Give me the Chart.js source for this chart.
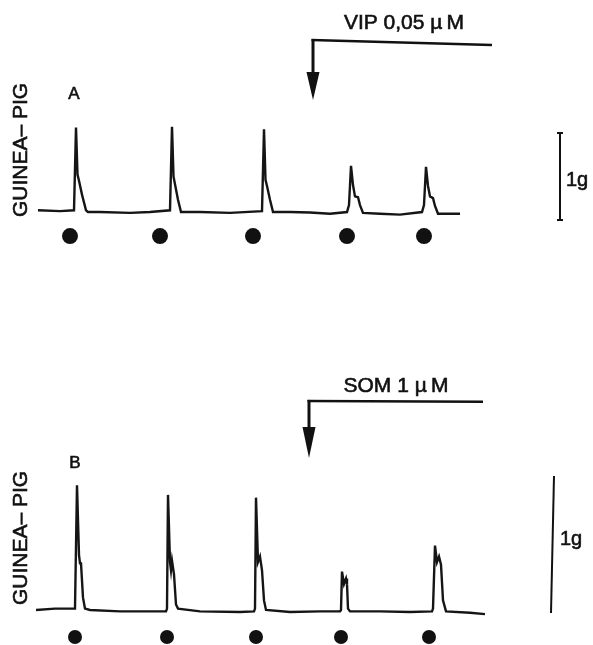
<!DOCTYPE html>
<html lang="en">
<head>
  <meta charset="UTF-8">
  <title>Guinea-pig traces: VIP and SOM</title>
  <script src="https://cdn.jsdelivr.net/npm/chart.js"></script>
  <style>
    body { margin: 0; background: #fff; font-family: "Liberation Sans", Arial, sans-serif; }
    .panel { position: absolute; left: 0; width: 593px; }
    #panelA { top: 0; height: 322px; }
    #panelB { top: 322px; height: 323px; }
  </style>
</head>
<body>
  <div class="panel" id="panelA"><canvas id="chartA" width="593" height="322"></canvas></div>
  <div class="panel" id="panelB"><canvas id="chartB" width="593" height="323"></canvas></div>
  <script>
    // tension traces: [time, force in g]
    const traceA = [
      [38, 0.02], [60, 0.01], [74, 0.02], [76, 0.97], [77.5, 0.43], [79, 0.36], [82, 0.20], [86, 0.02], [88, 0],
      [100, 0], [130, -0.01], [150, 0], [170, 0.02], [172, 0.98], [173.5, 0.41], [175, 0.32], [178, 0.14], [181, 0],
      [200, 0], [230, -0.01], [262, 0.01], [264, 0.95], [265.5, 0.37], [267, 0.30], [270, 0.14], [273, 0],
      [290, 0], [310, -0.005], [330, -0.02], [347, 0], [349, 0.08], [351, 0.53], [353, 0.31], [355, 0.18], [358, 0.17], [360, 0.08], [363, -0.01],
      [380, -0.02], [400, -0.03], [422, 0], [424, 0.08], [426, 0.52], [428, 0.30], [430, 0.18], [433, 0.16], [435, 0.07], [438, -0.02],
      [450, -0.02], [460, -0.02]
    ];
    const traceB = [
      [36, 0], [55, 0.01], [75, 0.01], [77, 0.91], [79, 0.40], [80, 0.34], [81, 0.34], [83, 0.09], [85, 0.01], [90, 0],
      [120, -0.01], [150, -0.01], [166, -0.01], [167, 0.01], [168, 0.84], [170, 0.35], [171, 0.29], [172, 0.36], [174, 0.26], [176, 0.04], [178, 0.01],
      [200, -0.01], [240, -0.015], [254, -0.01], [255, 0.01], [256, 0.82], [258, 0.35], [260, 0.39], [262, 0.29], [264, 0.07], [266, 0],
      [290, -0.015], [320, -0.01], [340, -0.01], [341, 0], [342, 0.28], [344, 0.19], [346, 0.23], [347, 0.19], [348, 0.01], [350, -0.01],
      [380, -0.01], [410, -0.015], [432, -0.01], [433, 0.01], [435, 0.47], [437, 0.35], [439, 0.39], [441, 0.33], [443, 0.07], [446, -0.01],
      [470, -0.02], [485, -0.03]
    ];
    // field stimulation marks
    const beatsA = [70, 160, 253, 347, 424];
    const beatsB = [75, 167, 256, 341, 429];
    const drugA = 'VIP 0,05 \u00b5\u2009M';
    const drugB = 'SOM 1 \u00b5\u2009M';
    const species = 'GUINEA\u2013 PIG';
    const scaleLabel = '1g';

    const FONT = '"Liberation Sans", Arial, sans-serif';

    // printed text looks a little heavier than regular, so add a hairline stroke
    function heavyText(ctx, text, x, y) {
      ctx.fillText(text, x, y);
      ctx.lineWidth = 0.6;
      ctx.strokeText(text, x, y);
    }

    function makeDecor(d) {
      return {
        id: 'decor',
        afterDatasetsDraw(chart) {
          const ctx = chart.ctx;
          const px = v => chart.scales.x.getPixelForValue(v);
          const py = v => chart.scales.y.getPixelForValue(v);
          ctx.save();
          ctx.strokeStyle = '#111';
          ctx.fillStyle = '#111';
          ctx.lineCap = 'butt';

          // drug application arrow
          const ax = px(d.arrow.t), ay = py(d.arrow.top);
          ctx.lineWidth = 2.5;
          ctx.beginPath();
          ctx.moveTo(ax - 1.5, ay);
          ctx.lineTo(px(d.arrow.end), py(d.arrow.endY));
          ctx.stroke();
          const tip = py(d.arrow.tip);
          ctx.lineWidth = 3;
          ctx.beginPath();
          ctx.moveTo(ax, ay - 1);
          ctx.lineTo(ax, tip - d.arrow.head + 2);
          ctx.stroke();
          ctx.beginPath();
          ctx.moveTo(ax - 6.5, tip - d.arrow.head);
          ctx.lineTo(ax + 6.5, tip - d.arrow.head);
          ctx.lineTo(ax, tip);
          ctx.closePath();
          ctx.fill();

          ctx.textBaseline = 'middle';
          ctx.textAlign = 'center';
          ctx.font = '21px ' + FONT;
          heavyText(ctx, d.drug, px(d.drugLabel[0]), py(d.drugLabel[1]));

          // panel letter
          ctx.font = '17px ' + FONT;
          heavyText(ctx, d.letter, px(d.letterPos[0]), py(d.letterPos[1]));

          // species label
          ctx.save();
          ctx.translate(px(d.speciesPos[0]), py(d.speciesPos[1]));
          ctx.rotate(-Math.PI / 2);
          ctx.font = '21px ' + FONT;
          heavyText(ctx, species, 0, 0);
          ctx.restore();

          // 1 g calibration bar
          const bx0 = px(d.bar.x0), bx1 = px(d.bar.x1);
          const by0 = py(d.bar.base), by1 = py(d.bar.base + 1);
          ctx.lineWidth = 2;
          ctx.beginPath();
          ctx.moveTo(bx0, by0);
          ctx.lineTo(bx1, by1);
          ctx.stroke();
          if (d.bar.caps) {
            ctx.beginPath();
            ctx.moveTo(bx0 - 3, by0); ctx.lineTo(bx0 + 3, by0);
            ctx.moveTo(bx1 - 3, by1); ctx.lineTo(bx1 + 3, by1);
            ctx.stroke();
          }
          ctx.textAlign = 'left';
          ctx.font = '20px ' + FONT;
          heavyText(ctx, scaleLabel, px(d.barLabel[0]), py(d.barLabel[1]));
          ctx.restore();
        }
      };
    }

    function makeChart(id, trace, beats, beatLevel, yMin, yMax, dotR, decor) {
      return new Chart(document.getElementById(id), {
        type: 'line',
        data: {
          datasets: [{
            data: trace.map(p => ({ x: p[0], y: p[1] })),
            borderColor: '#151515',
            borderWidth: 2.4,
            pointRadius: 0,
            tension: 0,
            clip: false
          }, {
            type: 'scatter',
            data: beats.map(t => ({ x: t, y: beatLevel })),
            pointRadius: dotR,
            pointBackgroundColor: '#111',
            pointBorderWidth: 0,
            showLine: false,
            clip: false
          }]
        },
        options: {
          responsive: false,
          animation: false,
          layout: { padding: 0, autoPadding: false },
          scales: {
            x: { type: 'linear', min: 0, max: 593, display: false },
            y: { type: 'linear', min: yMin, max: yMax, display: false }
          },
          plugins: { legend: { display: false }, tooltip: { enabled: false } }
        },
        plugins: [makeDecor(decor)]
      });
    }

    makeChart('chartA', traceA, beatsA, -0.276, -1.264, 2.437, 8, {
      drug: drugA, letter: 'A',
      arrow: { t: 313, top: 1.977, end: 492, endY: 1.92, tip: 1.287, head: 28 },
      drugLabel: [404, 2.172],
      letterPos: [74, 1.356],
      speciesPos: [21, 0.713],
      bar: { x0: 560, x1: 560, base: -0.092, caps: true },
      barLabel: [566, 0.368]
    });

    makeChart('chartB', traceB, beatsB, -0.197, -0.2555, 2.102, 7, {
      drug: drugB, letter: 'B',
      arrow: { t: 309, top: 1.526, end: 483, endY: 1.52, tip: 1.109, head: 31 },
      drugLabel: [396, 1.635],
      letterPos: [75, 1.073],
      speciesPos: [21, 0.526],
      bar: { x0: 551, x1: 554, base: -0.022, caps: false },
      barLabel: [560, 0.511]
    });
  </script>
</body>
</html>
